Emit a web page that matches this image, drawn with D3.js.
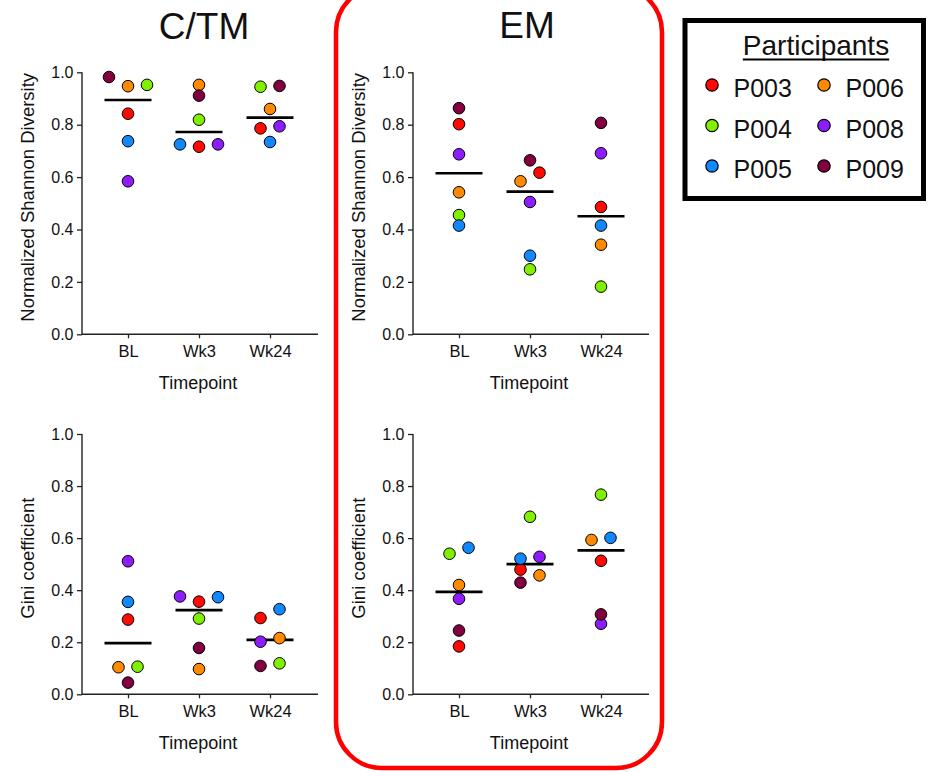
<!DOCTYPE html>
<html>
<head>
<meta charset="utf-8">
<script src="https://cdn.jsdelivr.net/npm/d3@7"></script>
<style>
  body { margin: 0; background: #fff; }
  svg { display: block; }
  text { font-family: "Liberation Sans", Arial, Helvetica, sans-serif; fill: #111; }
</style>
</head>
<body>
<svg id="chart" width="928" height="772"></svg>
<script>
// Participants and sampling timepoints
const participants = ["P003", "P004", "P005", "P006", "P008", "P009"];
const timepoints = ["BL", "Wk3", "Wk24"];
const yTicks = [0, 0.2, 0.4, 0.6, 0.8, 1.0];
const groupTitles = ["C/TM", "EM"];
const metricLabels = ["Normalized Shannon Diversity", "Gini coefficient"];

// One row per participant, columns BL / Wk3 / Wk24
const ctmShannon = [
  [0.842, 0.716, 0.786], // P003
  [0.952, 0.819, 0.945], // P004
  [0.737, 0.725, 0.734], // P005
  [0.947, 0.952, 0.860], // P006
  [0.584, 0.725, 0.794], // P008
  [0.982, 0.911, 0.948]  // P009
];
const emShannon = [
  [0.802, 0.617, 0.486],
  [0.455, 0.248, 0.182],
  [0.415, 0.300, 0.415],
  [0.542, 0.584, 0.342],
  [0.687, 0.505, 0.691],
  [0.863, 0.664, 0.807]
];
const ctmGini = [
  [0.287, 0.356, 0.293],
  [0.106, 0.291, 0.119],
  [0.355, 0.373, 0.327],
  [0.104, 0.097, 0.216],
  [0.511, 0.376, 0.202],
  [0.045, 0.178, 0.109]
];
const emGini = [
  [0.184, 0.479, 0.513],
  [0.540, 0.682, 0.767],
  [0.563, 0.521, 0.601],
  [0.420, 0.457, 0.593],
  [0.367, 0.528, 0.271],
  [0.245, 0.429, 0.307]
];

const colour = d3.scaleOrdinal()
  .domain(participants)
  .range(["#ff0a00", "#80f000", "#1288ff", "#ff8a00", "#8d1cff", "#820040"]);

const svg = d3.select("#chart");
const R = 5.8;          // dot radius
const STEP = 19;        // horizontal distance between side-by-side dots
const PLOT_W = 236;

// Red rounded frame around the EM column
svg.append("rect")
  .attr("x", 336).attr("y", -14)
  .attr("width", 326).attr("height", 782)
  .attr("rx", 46)
  .attr("fill", "none")
  .attr("stroke", "#ff0000")
  .attr("stroke-width", 4.5);

// Spread dots that would overlap: close values share a row (side by side),
// taller clusters alternate left/right.
function dodge(points, y) {
  const sorted = points.slice().sort((a, b) => b.v - a.v);
  const groups = [];
  sorted.forEach(d => {
    const g = groups[groups.length - 1];
    if (g && y(d.v) - y(g[g.length - 1].v) < 9.1) g.push(d);
    else groups.push([d]);
  });
  groups.forEach(g => {
    const k = g.length;
    if (k === 1) { g[0].slot = 0; return; }
    const spread = y(g[k - 1].v) - y(g[0].v);
    if (spread >= 11) {
      g.forEach((d, i) => d.slot = i % 2 === 0 ? -0.5 : 0.5);
    } else if (k === 3) {
      [-1, 1, 0].forEach((s, i) => g[i].slot = s);
    } else {
      g.slice().reverse().forEach((d, i) => d.slot = i - (k - 1) / 2);
    }
  });
  return points;
}

function panel(x0, yTop, yBottom, table, yLabel) {
  const x = d3.scalePoint().domain(timepoints).range([x0 + 46, x0 + 188]);
  const y = d3.scaleLinear().domain([0, 1]).range([yBottom, yTop]);
  const g = svg.append("g");

  // y axis
  const ya = g.append("g")
    .attr("transform", `translate(${x0},0)`)
    .call(d3.axisLeft(y).tickValues(yTicks).tickFormat(d3.format(".1f"))
      .tickSize(5).tickPadding(3.5));
  ya.select(".domain").remove();
  ya.selectAll("line").attr("stroke", "#222").attr("stroke-width", 1.3);
  ya.selectAll("text").style("font-size", "16px").attr("fill", "#111");
  g.append("line").attr("x1", x0).attr("x2", x0).attr("y1", yTop).attr("y2", yBottom)
    .attr("stroke", "#222").attr("stroke-width", 1.4);

  // x axis
  const xa = g.append("g")
    .attr("transform", `translate(0,${yBottom})`)
    .call(d3.axisBottom(x).tickSize(4).tickPadding(7));
  xa.select(".domain").remove();
  xa.selectAll("line").attr("stroke", "#222").attr("stroke-width", 1.3);
  xa.selectAll("text").style("font-size", "16.5px").attr("fill", "#111");
  g.append("line").attr("x1", x0).attr("x2", x0 + PLOT_W).attr("y1", yBottom).attr("y2", yBottom)
    .attr("stroke", "#222").attr("stroke-width", 1.4);

  // axis titles
  g.append("text")
    .attr("transform", `translate(${x0 - 48.5},${(yTop + yBottom) / 2 - 6}) rotate(-90)`)
    .attr("text-anchor", "middle")
    .style("font-size", "18.5px")
    .text(yLabel);
  g.append("text")
    .attr("x", x0 + PLOT_W / 2 - 2)
    .attr("y", yBottom + 55)
    .attr("text-anchor", "middle")
    .style("font-size", "18px")
    .text("Timepoint");

  timepoints.forEach((t, j) => {
    const pts = participants.map((p, i) => ({ p, v: table[i][j] }));
    dodge(pts, y);
    const cx = x(t);

    // median bar
    const med = d3.median(pts, d => d.v);
    g.append("line")
      .attr("x1", cx - 23.5).attr("x2", cx + 23.5)
      .attr("y1", y(med)).attr("y2", y(med))
      .attr("stroke", "#000").attr("stroke-width", 2.6);

    g.selectAll(null).data(pts).join("circle")
      .attr("cx", d => cx + d.slot * STEP)
      .attr("cy", d => y(d.v))
      .attr("r", R)
      .attr("fill", d => colour(d.p))
      .attr("stroke", "#000")
      .attr("stroke-width", 1);
  });
}

// Column titles
svg.append("text").attr("x", 204).attr("y", 39).attr("text-anchor", "middle")
  .style("font-size", "37px").text(groupTitles[0]);
svg.append("text").attr("x", 527).attr("y", 38).attr("text-anchor", "middle")
  .style("font-size", "37px").text(groupTitles[1]);

panel(82, 72.3, 334.3, ctmShannon, metricLabels[0]);
panel(413, 72.3, 334.3, emShannon, metricLabels[0]);
panel(82, 434, 694.3, ctmGini, metricLabels[1]);
panel(413, 434, 694.3, emGini, metricLabels[1]);

// Legend
const lg = svg.append("g");
lg.append("rect")
  .attr("x", 685).attr("y", 20.5).attr("width", 238.5).attr("height", 178)
  .attr("fill", "#fff").attr("stroke", "#000").attr("stroke-width", 5);
const title = lg.append("text")
  .attr("x", 816).attr("y", 55).attr("text-anchor", "middle")
  .style("font-size", "28px").text("Participants");
const tw = title.node().getComputedTextLength();
lg.append("line")
  .attr("x1", 816 - tw / 2).attr("x2", 816 + tw / 2)
  .attr("y1", 59.5).attr("y2", 59.5)
  .attr("stroke", "#000").attr("stroke-width", 2);

const items = lg.selectAll("g.item").data(participants).join("g")
  .attr("class", "item")
  .attr("transform", (d, i) => `translate(${i < 3 ? 712 : 824},${85 + (i % 3) * 40.5})`);
items.append("circle").attr("r", 6.2)
  .attr("fill", d => colour(d)).attr("stroke", "#000").attr("stroke-width", 1.2);
items.append("text").attr("x", 21.5).attr("y", 12)
  .style("font-size", "25px").text(d => d);
</script>
</body>
</html>
